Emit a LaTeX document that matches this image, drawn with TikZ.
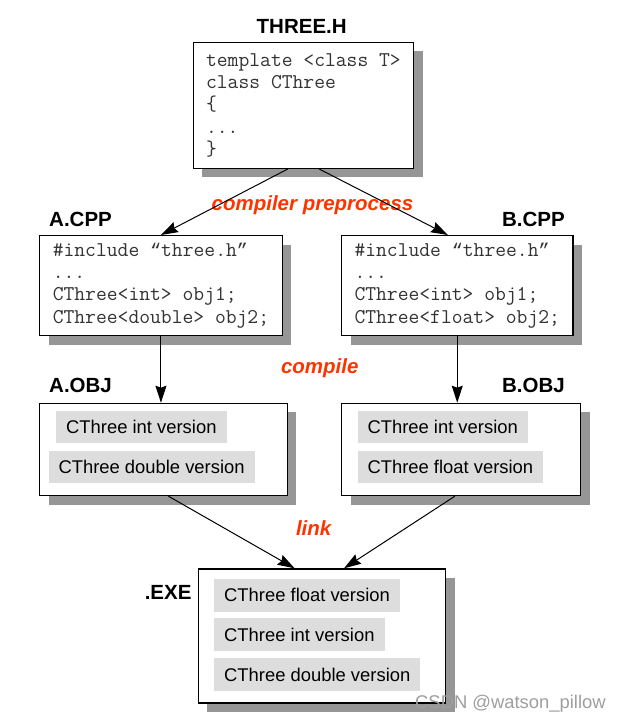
\documentclass[tikz,border=0pt]{standalone}
\usepackage{fontspec}
\setmainfont{Liberation Sans}
\newfontfamily\quotefont{Liberation Mono}
\usepackage{tikz}
\usetikzlibrary{shadows,arrows.meta,calc}
\newcommand{\codesize}{\fontsize{21}{22.2}\selectfont\ttfamily}
\newcommand{\lblsize}{\fontsize{20.5}{24}\selectfont\bfseries}
\newcommand{\slotsize}{\fontsize{18.4}{22}\selectfont}
\newcommand{\incl}{\#include {\quotefont\fontsize{18.4}{22.2}\selectfont “}three.h{\quotefont\fontsize{18.4}{22.2}\selectfont ”}}
\definecolor{steporange}{HTML}{FF3300}
\definecolor{shadowgray}{HTML}{969696}
\definecolor{slotgray}{HTML}{DDDDDD}

\begin{document}
\begin{tikzpicture}[x=1pt,y=-1pt,
  filebox/.style={draw, line width=1.2pt, fill=white, anchor=north west, inner sep=0pt,
    align=left, font=\codesize, text=black!80,
    drop shadow={shadow xshift=9pt, shadow yshift=-9pt, fill=shadowgray, opacity=1}},
  slot/.style={fill=slotgray, anchor=west, inner xsep=10pt, inner ysep=0pt,
    minimum height=32.4pt, font=\slotsize},
  fname/.style={font=\lblsize, inner sep=0pt},
  steplbl/.style={font=\lblsize\itshape, text=steporange, inner sep=0pt, anchor=base},
  flow/.style={-{Stealth[length=17pt,width=11pt,inset=2pt]}, line width=1pt}]
  \useasboundingbox (0,0) rectangle (618,722);

  \node[filebox, minimum width=220.3pt, minimum height=126pt] (threeh) at (192.7,41.7)
    {template <class T>\\class CThree\\\{\\...\\\}};
  \node[filebox, minimum width=242.7pt, minimum height=100pt] (acpp) at (39,235)
    {\incl\\...\\CThree<int> obj1;\\CThree<double> obj2;};
  \node[filebox, minimum width=231.3pt, minimum height=100pt] (bcpp) at (341,235)
    {\incl\\...\\CThree<int> obj1;\\CThree<float> obj2;};
  \node[filebox, minimum width=247.7pt, minimum height=92.3pt] (aobj) at (39,402.7) {};
  \node[filebox, minimum width=239pt, minimum height=92.3pt] (bobj) at (341,402.7) {};
  \node[filebox, minimum width=247.3pt, minimum height=134pt] (exe) at (197.7,568.3) {};

  \node[fname, anchor=base] (threehlbl) at (301.7,33.1) {THREE.H};
  \node[fname, anchor=base west] (acpplbl) at (49,226.1) {A.CPP};
  \node[fname, anchor=base east] (bcpplbl) at (565,226.1) {B.CPP};
  \node[fname, anchor=base west] (aobjlbl) at (49,392.3) {A.OBJ};
  \node[fname, anchor=base east] (bobjlbl) at (565,392.3) {B.OBJ};
  \node[fname, anchor=base east] (exelbl) at (191.7,599.3) {.EXE};

  \node[slot] (aint) at (56,427.2) {CThree int version};
  \node[slot] (adouble) at (48.3,467.2) {CThree double version};
  \node[slot] (bint) at (357.3,427.2) {CThree int version};
  \node[slot] (bfloat) at (357.3,467.2) {CThree float version};
  \node[slot] (efloat) at (214,595.3) {CThree float version};
  \node[slot] (eint) at (214,634.5) {CThree int version};
  \node[slot] (edouble) at (214,674.5) {CThree double version};

  \node[steplbl] (preproc) at (312.5,210) {compiler preprocess};
  \node[steplbl] (compile) at (319.8,373.3) {compile};
  \node[steplbl] (link) at (313.7,535) {link};

  \draw[flow] ($(threeh.south west)!.43!(threeh.south east)$) -- (acpp.north);
  \draw[flow] ($(threeh.south west)!.57!(threeh.south east)$) -- ($(bcpp.north west)!.46!(bcpp.north east)$);
  \draw[flow] (acpp.south) -- (acpp.south |- aobj.north);
  \draw[flow] (bcpp.south) -- (bcpp.south |- bobj.north);
  \draw[flow] ($(aobj.south west)!.52!(aobj.south east)$) -- ($(exe.north west)!.39!(exe.north east)$);
  \draw[flow] ($(bobj.south west)!.474!(bobj.south east)$) -- ($(exe.north west)!.589!(exe.north east)$);

  \node[anchor=base west, inner sep=0pt, font=\slotsize, text=black!38] (wmark) at (415,708.2) {CSDN @watson\_pillow};
\end{tikzpicture}
\end{document}
